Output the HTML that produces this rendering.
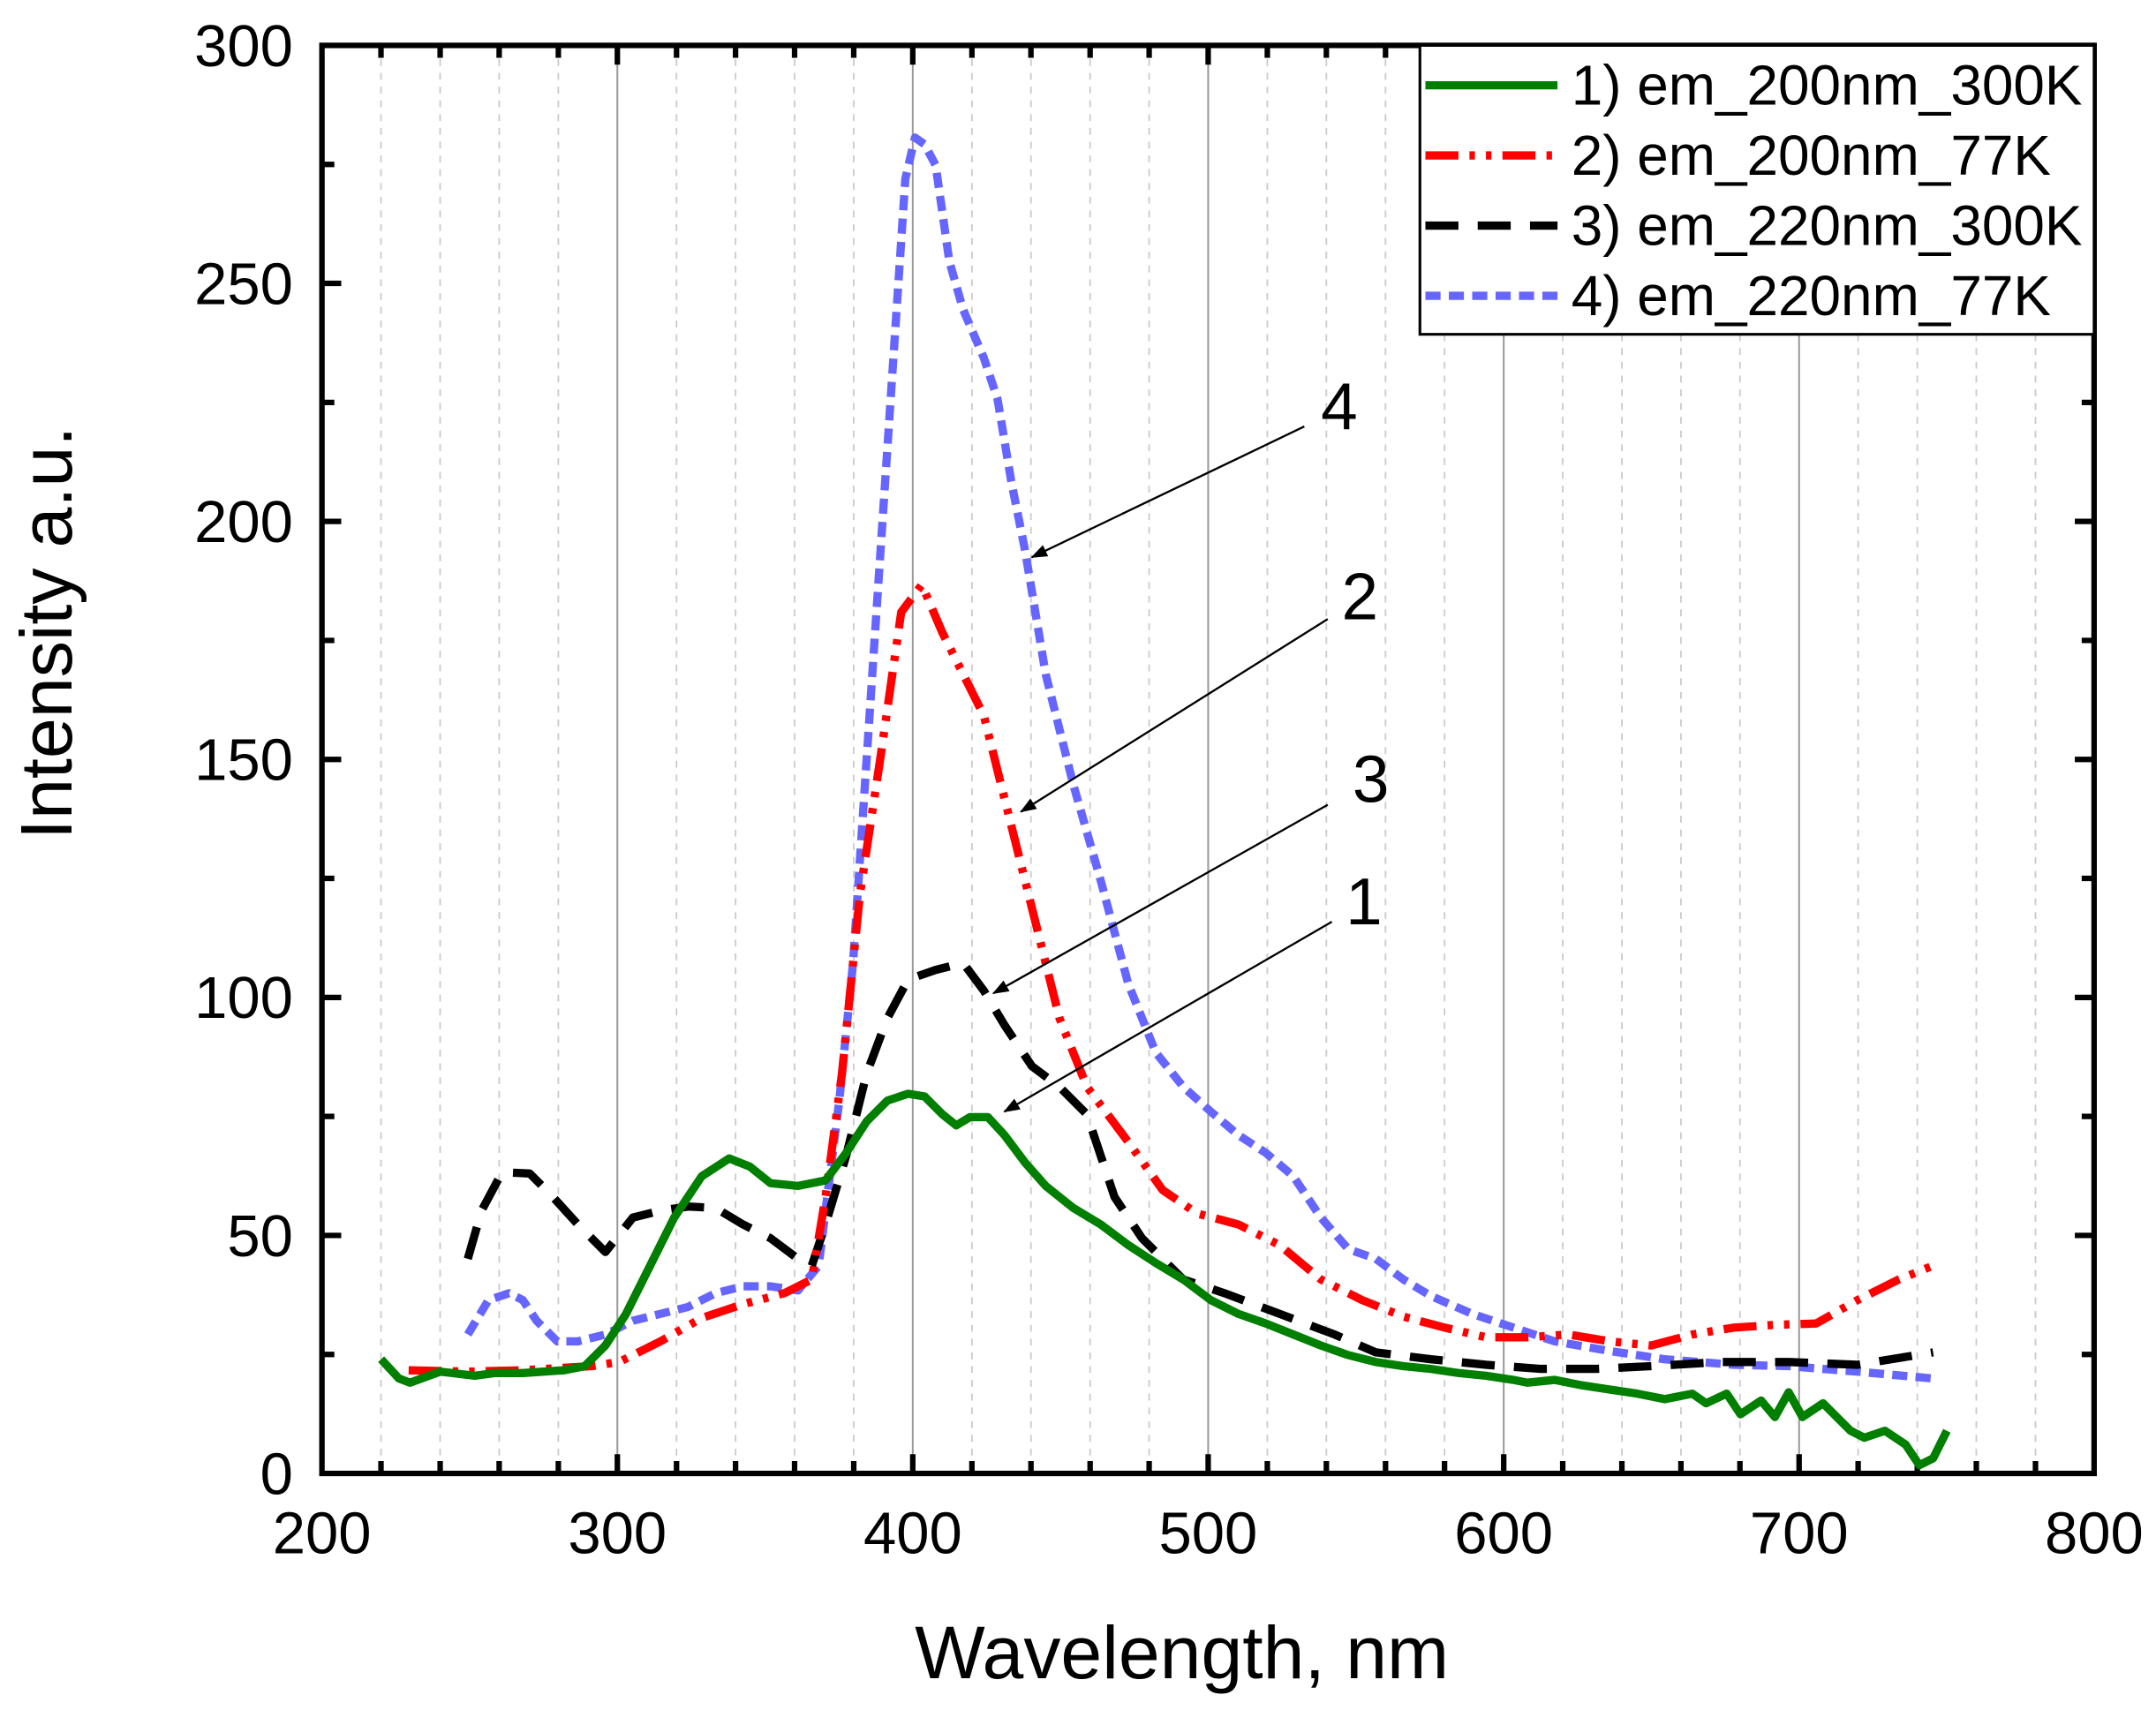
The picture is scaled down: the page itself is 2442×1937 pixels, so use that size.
<!DOCTYPE html>
<html><head><style>body{margin:0;background:#fff}svg{display:block}text{font-family:"Liberation Sans",sans-serif;fill:#000}</style></head>
<body>
<svg width="2442" height="1937" viewBox="0 0 2442 1937" xmlns="http://www.w3.org/2000/svg">
<defs>
<marker id="ah" markerWidth="12" markerHeight="9" refX="11" refY="4.5" orient="auto" markerUnits="userSpaceOnUse" viewBox="0 0 12 9"><path d="M0,0 L12,4.5 L0,9 Z" fill="#000"/></marker>
</defs>
<g transform="scale(1.5584)">
<g stroke="#ccc" stroke-width="1.2" stroke-dasharray="5,5">
<line x1="276.9" y1="33" x2="276.9" y2="1071"/><line x1="319.9" y1="33" x2="319.9" y2="1071"/><line x1="362.8" y1="33" x2="362.8" y2="1071"/><line x1="405.8" y1="33" x2="405.8" y2="1071"/>
<line x1="491.7" y1="33" x2="491.7" y2="1071"/><line x1="534.6" y1="33" x2="534.6" y2="1071"/><line x1="577.5" y1="33" x2="577.5" y2="1071"/><line x1="620.5" y1="33" x2="620.5" y2="1071"/>
<line x1="706.4" y1="33" x2="706.4" y2="1071"/><line x1="749.3" y1="33" x2="749.3" y2="1071"/><line x1="792.3" y1="33" x2="792.3" y2="1071"/><line x1="835.2" y1="33" x2="835.2" y2="1071"/>
<line x1="921.1" y1="33" x2="921.1" y2="1071"/><line x1="964" y1="33" x2="964" y2="1071"/><line x1="1007" y1="33" x2="1007" y2="1071"/><line x1="1049.9" y1="33" x2="1049.9" y2="1071"/>
<line x1="1135.8" y1="33" x2="1135.8" y2="1071"/><line x1="1178.8" y1="33" x2="1178.8" y2="1071"/><line x1="1221.7" y1="33" x2="1221.7" y2="1071"/><line x1="1264.6" y1="33" x2="1264.6" y2="1071"/>
<line x1="1350.5" y1="33" x2="1350.5" y2="1071"/><line x1="1393.5" y1="33" x2="1393.5" y2="1071"/><line x1="1436.4" y1="33" x2="1436.4" y2="1071"/><line x1="1479.4" y1="33" x2="1479.4" y2="1071"/>
</g>
<g stroke="#999" stroke-width="1.3">
<line x1="448.7" y1="33" x2="448.7" y2="1071"/><line x1="663.4" y1="33" x2="663.4" y2="1071"/><line x1="878.1" y1="33" x2="878.1" y2="1071"/><line x1="1092.9" y1="33" x2="1092.9" y2="1071"/><line x1="1307.6" y1="33" x2="1307.6" y2="1071"/>
</g>
<g stroke="#000" stroke-width="4">
<path d="M448.7,1071v-14M663.4,1071v-14M878.1,1071v-14M1092.9,1071v-14M1307.6,1071v-14M448.7,33v14M663.4,33v14M878.1,33v14M1092.9,33v14M1307.6,33v14"/>
<path d="M276.9,1071v-9M319.9,1071v-9M362.8,1071v-9M405.8,1071v-9M491.7,1071v-9M534.6,1071v-9M577.5,1071v-9M620.5,1071v-9M706.4,1071v-9M749.3,1071v-9M792.3,1071v-9M835.2,1071v-9M921.1,1071v-9M964,1071v-9M1007,1071v-9M1049.9,1071v-9M1135.8,1071v-9M1178.8,1071v-9M1221.7,1071v-9M1264.6,1071v-9M1350.5,1071v-9M1393.5,1071v-9M1436.4,1071v-9M1479.4,1071v-9"/>
<path d="M276.9,33v9M319.9,33v9M362.8,33v9M405.8,33v9M491.7,33v9M534.6,33v9M577.5,33v9M620.5,33v9M706.4,33v9M749.3,33v9M792.3,33v9M835.2,33v9M921.1,33v9M964,33v9M1007,33v9M1049.9,33v9M1135.8,33v9M1178.8,33v9M1221.7,33v9M1264.6,33v9M1350.5,33v9M1393.5,33v9M1436.4,33v9M1479.4,33v9"/>
<path d="M234,898h14M234,725h14M234,552h14M234,379h14M234,206h14M1522,898h-14M1522,725h-14M1522,552h-14M1522,379h-14M1522,206h-14"/>
<path d="M234,984.5h9M234,811.5h9M234,638.5h9M234,465.5h9M234,292.5h9M234,119.5h9M1522,984.5h-9M1522,811.5h-9M1522,638.5h-9M1522,465.5h-9M1522,292.5h-9M1522,119.5h-9"/>
</g>
<rect x="234" y="33" width="1288" height="1038" fill="none" stroke="#000" stroke-width="4"/>
<g font-size="43" text-anchor="middle">
<text x="234" y="1129">200</text><text x="448.7" y="1129">300</text><text x="663.4" y="1129">400</text><text x="878.1" y="1129">500</text><text x="1092.9" y="1129">600</text><text x="1307.6" y="1129">700</text><text x="1522" y="1129">800</text>
</g>
<g font-size="43" text-anchor="end">
<text x="213" y="1086">0</text><text x="213" y="913">50</text><text x="213" y="740">100</text><text x="213" y="567">150</text><text x="213" y="394">200</text><text x="213" y="221">250</text><text x="213" y="48">300</text>
</g>
<text x="859" y="1220" font-size="54" text-anchor="middle">Wavelength, nm</text>
<text transform="translate(52,460) rotate(-90)" font-size="53" text-anchor="middle">Intensity a.u.</text>
<g fill="none" stroke-width="6" stroke-linejoin="round">
<path stroke="#6666ff" stroke-dasharray="11,6" d="M340,970 L355,945 370,940 380,945 390,960 405,975 420,975 440,970 460,960 480,955 500,950 520,940 540,935 560,935 580,938 595,920 610,800 620,700 630,550 640,400 650,250 658,130 665,100 672,105 680,120 690,190 700,225 715,260 725,290 735,350 745,400 760,490 780,570 800,640 820,715 840,765 860,790 880,808 900,825 920,838 940,855 960,885 980,908 1000,915 1020,930 1040,942 1070,955 1100,965 1130,975 1170,982 1210,988 1260,992 1300,993 1350,997 1405,1002"/>
<path stroke="#000" stroke-dasharray="24,14" d="M340,915 L350,880 365,852 385,853 400,868 420,890 440,910 460,885 480,880 500,877 520,878 540,890 560,900 580,915 590,920 600,890 615,840 630,780 645,740 660,712 680,705 700,700 715,720 730,745 750,775 770,790 790,810 810,870 830,900 860,930 890,940 930,955 970,970 1000,983 1040,988 1080,992 1120,995 1160,995 1200,993 1250,990 1300,990 1350,992 1405,983"/>
<path stroke="#ff0000" stroke-dasharray="24,8,4,8,4,8" d="M297,996 L340,997 380,996 430,993 450,990 480,975 510,958 540,948 570,940 590,930 600,870 612,780 625,650 640,550 655,445 670,425 685,460 700,490 715,520 725,560 740,620 755,680 770,740 790,790 820,830 845,865 870,882 900,890 930,905 960,930 990,945 1020,957 1050,965 1080,972 1110,972 1140,970 1170,975 1200,978 1230,970 1260,965 1290,963 1320,962 1350,945 1380,930 1405,920"/>
<path stroke="#007f00" d="M277,988 L290,1002 298,1005 320,997 345,1000 360,998 380,998 410,996 425,993 440,978 455,955 470,925 490,885 510,855 530,842 545,848 560,860 580,862 600,858 615,838 630,815 645,800 660,795 672,797 685,810 695,818 705,812 718,812 730,825 745,845 760,862 780,878 800,890 820,905 840,918 860,930 880,945 900,955 920,962 940,970 960,978 980,985 1000,990 1020,993 1040,995 1060,998 1080,1000 1100,1003 1110,1005 1130,1003 1150,1007 1170,1010 1190,1013 1210,1017 1230,1013 1240,1020 1255,1013 1265,1028 1280,1018 1290,1030 1300,1012 1310,1030 1325,1020 1335,1030 1345,1040 1355,1045 1370,1040 1385,1050 1395,1065 1405,1060 1415,1040"/>
</g>
<g stroke="#000" stroke-width="1.5" marker-end="url(#ah)">
<line x1="948" y1="310" x2="750" y2="405"/>
<line x1="965" y1="450" x2="742" y2="590"/>
<line x1="965" y1="585" x2="722" y2="722"/>
<line x1="968" y1="670" x2="730" y2="808"/>
</g>
<g font-size="48">
<text x="960" y="312">4</text><text x="975" y="450">2</text><text x="983" y="583">3</text><text x="978" y="672">1</text>
</g>
<rect x="1032" y="33" width="490" height="210" fill="#fff" stroke="#000" stroke-width="2"/>
<g stroke-width="6" fill="none">
<line x1="1036" y1="62" x2="1132" y2="62" stroke="#007f00"/>
<line x1="1036" y1="113" x2="1132" y2="113" stroke="#ff0000" stroke-dasharray="24,8,4,8,4,8"/>
<line x1="1036" y1="164" x2="1132" y2="164" stroke="#000" stroke-dasharray="24,14"/>
<line x1="1036" y1="215" x2="1132" y2="215" stroke="#6666ff" stroke-dasharray="11,6"/>
</g>
<g font-size="41">
<text x="1142" y="76">1) em_200nm_300K</text>
<text x="1142" y="127">2) em_200nm_77K</text>
<text x="1142" y="178">3) em_220nm_300K</text>
<text x="1142" y="229">4) em_220nm_77K</text>
</g>
</g>
</svg>
</body></html>
